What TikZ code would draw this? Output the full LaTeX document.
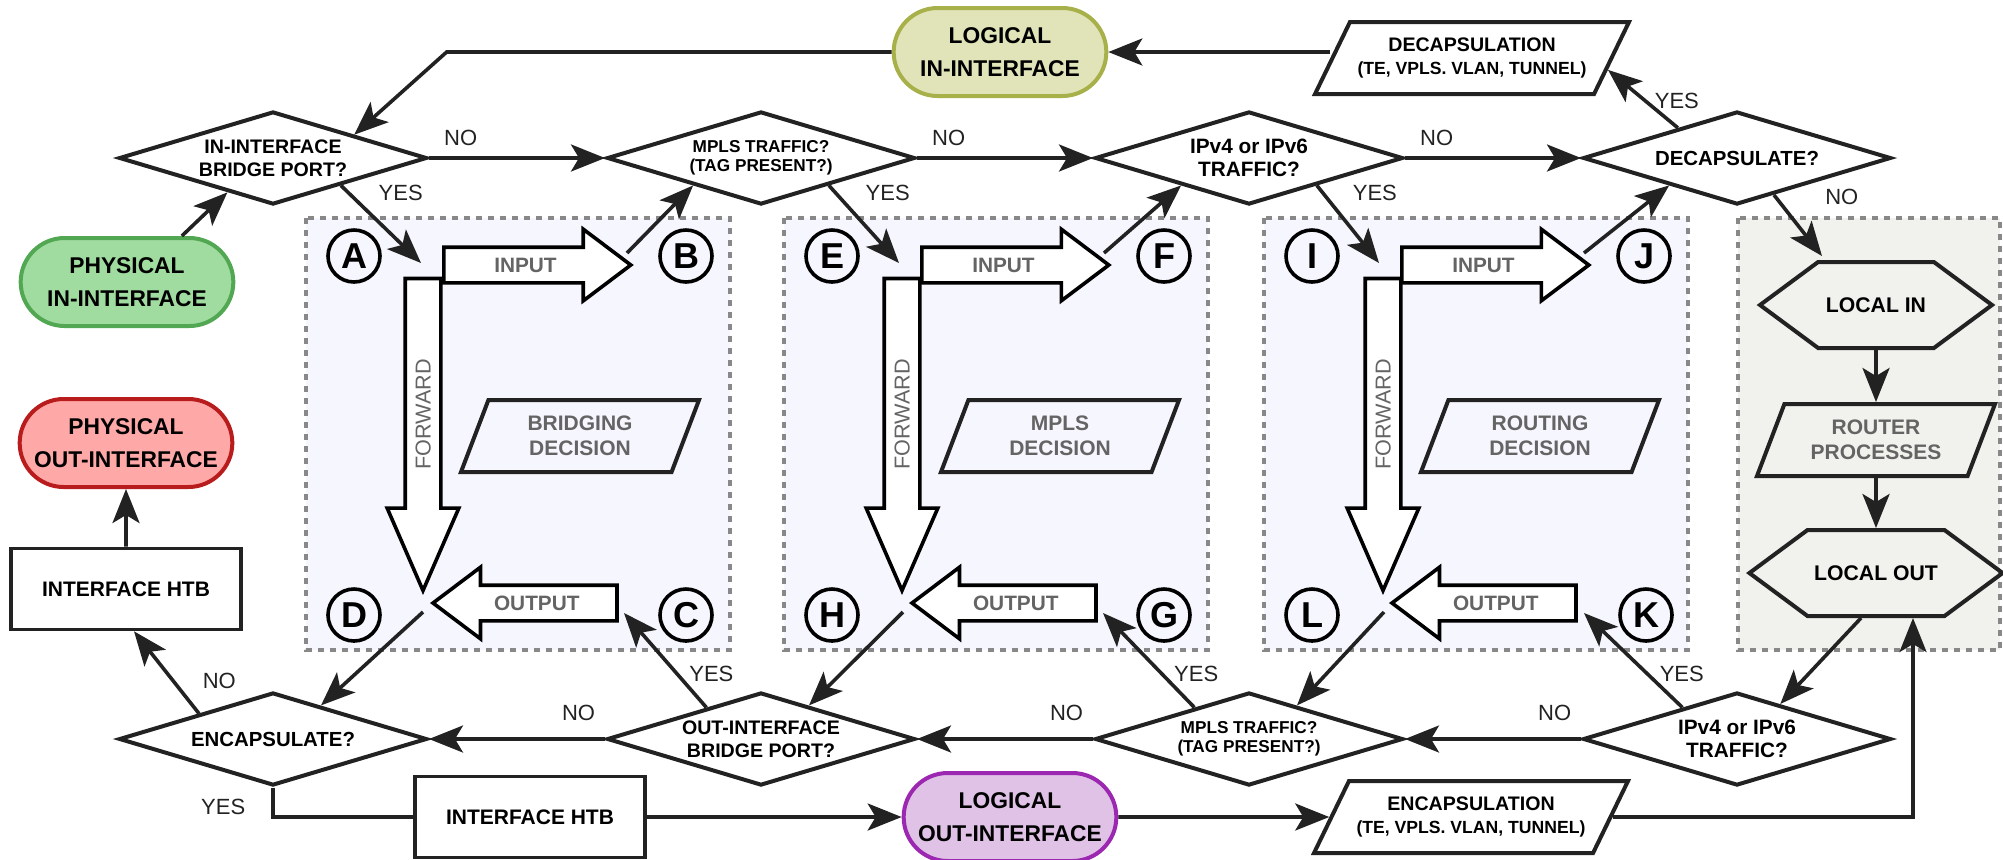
\documentclass[tikz,border=0pt]{standalone}
\usepackage{fontspec}
\setmainfont{Liberation Sans}
\usepackage{tikz}
\definecolor{linedark}{RGB}{34,34,34}
\definecolor{labelgray}{RGB}{100,100,100}
\definecolor{dashgray}{RGB}{136,136,136}
\definecolor{blockbg}{RGB}{246,246,254}
\definecolor{localbg}{RGB}{241,242,237}
\definecolor{physinfill}{RGB}{160,220,160}
\definecolor{physindraw}{RGB}{82,168,82}
\definecolor{physoutfill}{RGB}{255,168,168}
\definecolor{physoutdraw}{RGB}{184,28,28}
\definecolor{loginfill}{RGB}{224,228,184}
\definecolor{logindraw}{RGB}{168,176,74}
\definecolor{logoutfill}{RGB}{223,194,230}
\definecolor{logoutdraw}{RGB}{156,39,176}
\usetikzlibrary{shapes.geometric,shapes.misc,shapes.arrows,shapes.symbols,arrows.meta,positioning}

\begin{document}
\begin{tikzpicture}[
    x=0.5pt, y=-0.5pt,
    node distance=242pt and 88pt,
    pill/.style={rounded rectangle, line width=2pt, minimum width=113pt, minimum height=44pt, align=center, font=\bfseries\fontsize{11.4}{16.5}\selectfont},
    process/.style={rectangle, draw=linedark, line width=1.8pt, minimum width=115pt, minimum height=40.5pt, font=\bfseries\fontsize{10.5}{12}\selectfont},
    decision/.style={diamond, draw=linedark, line width=2pt, aspect=3.3, minimum width=154pt, minimum height=46.5pt, inner sep=0pt, align=center, font=\bfseries\fontsize{9.8}{11.7}\selectfont},
    mplsq/.style={font=\bfseries\fontsize{8.6}{9.6}\selectfont},
    ipq/.style={font=\bfseries\fontsize{10.4}{11.7}\selectfont},
    capq/.style={font=\bfseries\fontsize{10.2}{12}\selectfont},
    data/.style={trapezium, trapezium left angle=52, trapezium right angle=128, trapezium stretches body=true, draw=linedark, line width=2pt, fill=white, minimum width=157pt, minimum height=36pt, inner sep=1pt, align=center, font=\bfseries\fontsize{9.8}{11.7}\selectfont},
    choice/.style={trapezium, trapezium left angle=58, trapezium right angle=122, trapezium stretches body=true, draw=linedark, line width=2pt, minimum width=119pt, minimum height=36pt, inner sep=1pt, align=center, text=labelgray, font=\bfseries\fontsize{10.5}{12.5}\selectfont},
    hexa/.style={signal, signal to=east and west, signal pointer angle=73, draw=linedark, line width=2pt, minimum width=116pt, minimum height=43pt, font=\bfseries\fontsize{10.6}{12}\selectfont},
    letter/.style={circle, draw=black, line width=1.8pt, minimum size=26pt, inner sep=0pt, font=\bfseries\fontsize{18}{18}\selectfont},
    flow/.style={single arrow, draw=black, line width=1.8pt, fill=white, single arrow head extend=9pt, single arrow tip angle=74, text height=7.5pt, text depth=0pt, inner ysep=4.25pt, inner xsep=2pt, text=labelgray, font=\bfseries\fontsize{10.4}{12}\selectfont},
    fwd/.style={rotate=90, shape border rotate=180, minimum height=156pt, single arrow tip angle=47, font=\fontsize{10.8}{12}\selectfont},
    block/.style={draw=dashgray, line width=2pt, dash pattern=on 3pt off 3pt, fill=blockbg},
    arrow/.style={-{Stealth[length=17pt, width=13.5pt, inset=4pt]}, line width=1.8pt, draw=linedark},
    yesno/.style={inner sep=0pt, text=linedark, font=\fontsize{11}{11}\selectfont}
]
\useasboundingbox (0,0) rectangle (2003,859);

% decision blocks
\draw[block] (306,218) rectangle (730,650);
\draw[block] (784,218) rectangle (1208,650);
\draw[block] (1264,218) rectangle (1688,650);
\draw[block, fill=localbg] (1738,218) rectangle (2000,650);

\node[letter] (cA) at (354,256) {A};
\node[letter] (cB) at (686,256) {B};
\node[letter] (cC) at (686,615) {C};
\node[letter] (cD) at (354,615) {D};
\node[letter] (cE) at (832,256) {E};
\node[letter] (cF) at (1164,256) {F};
\node[letter] (cG) at (1164,615) {G};
\node[letter] (cH) at (832,615) {H};
\node[letter] (cI) at (1312,256) {I};
\node[letter] (cJ) at (1644,256) {J};
\node[letter] (cK) at (1646,615) {K};
\node[letter] (cL) at (1312,615) {L};

\node[flow, anchor=tail, minimum height=93.5pt] (inA) at (442,265) {INPUT};
\node[flow, anchor=tail, minimum height=93.5pt] (inE) at (920,265) {INPUT};
\node[flow, anchor=tail, minimum height=93.5pt] (inI) at (1400,265) {INPUT};
\node[flow, fwd, anchor=tip] (fwA) at (423,595) {FORWARD};
\node[flow, fwd, anchor=tip] (fwE) at (902,595) {FORWARD};
\node[flow, fwd, anchor=tip] (fwI) at (1383,595) {FORWARD};
\node[flow, shape border rotate=180, anchor=tip, minimum height=92pt] (outA) at (430,603) {OUTPUT};
\node[flow, shape border rotate=180, anchor=tip, minimum height=92pt] (outE) at (909,603) {OUTPUT};
\node[flow, shape border rotate=180, anchor=tip, minimum height=92pt] (outI) at (1389,603) {OUTPUT};

\node[choice] (bridging) at (580,436) {BRIDGING\\DECISION};
\node[choice] (mplsdec) at (1060,436) {MPLS\\DECISION};
\node[choice] (routing) at (1540,436) {ROUTING\\DECISION};

\coordinate (aIn) at (421,263);
\coordinate (aOut) at (627,253);
\coordinate (cIn) at (624,613);
\coordinate (dOut) at (423,612);
\coordinate (eIn) at (899,263);
\coordinate (fOut) at (1104,253);
\coordinate (gIn) at (1103,613);
\coordinate (hOut) at (903,612);
\coordinate (iIn) at (1379,263);
\coordinate (jOut) at (1584,253);
\coordinate (kIn) at (1584,613);
\coordinate (lOut) at (1384,612);

% local processing
\node[hexa] (localin) at (1876,305) {LOCAL IN};
\node[choice, below=26pt of localin] (routproc) {ROUTER\\PROCESSES};
\node[hexa, below=25pt of routproc] (localout) {LOCAL OUT};

% interfaces
\node[pill, fill=physinfill, draw=physindraw] (physin) at (127,282) {PHYSICAL\\IN-INTERFACE};
\node[pill, fill=physoutfill, draw=physoutdraw] (physout) at (126,443) {PHYSICAL\\OUT-INTERFACE};
\node[pill, fill=loginfill, draw=logindraw] (login) at (1000,52) {LOGICAL\\IN-INTERFACE};
\node[pill, fill=logoutfill, draw=logoutdraw] (logout) at (1010,817) {LOGICAL\\OUT-INTERFACE};
\node[process] (htbA) at (126,589) {INTERFACE HTB};
\node[process] (htbB) at (530,817) {INTERFACE HTB};
\node[data] (decapsulation) at (1472,58) {DECAPSULATION\\{\fontsize{8.8}{11.7}\selectfont (TE, VPLS. VLAN, TUNNEL)}};
\node[data] (encapsulation) at (1471,817) {ENCAPSULATION\\{\fontsize{8.8}{11.7}\selectfont (TE, VPLS. VLAN, TUNNEL)}};

% questions
\node[decision] (inbr) at (273,158) {IN-INTERFACE\\BRIDGE PORT?};
\node[decision, mplsq, right=of inbr] (mplsin) {MPLS TRAFFIC?\\(TAG PRESENT?)};
\node[decision, ipq, right=of mplsin] (ipin) {IPv4 or IPv6\\TRAFFIC?};
\node[decision, capq, right=of ipin] (decap) {DECAPSULATE?};
\node[decision, capq, below=of inbr] (encap) {ENCAPSULATE?};
\node[decision, below=of mplsin] (outbr) {OUT-INTERFACE\\BRIDGE PORT?};
\node[decision, mplsq, below=of ipin] (mplsout) {MPLS TRAFFIC?\\(TAG PRESENT?)};
\node[decision, ipq, below=of decap] (ipout) {IPv4 or IPv6\\TRAFFIC?};

% input path
\draw[arrow] (physin.40) -- (inbr.217);
\draw[arrow] (inbr.east) -- node[yesno, pos=0.18, above=5pt] {NO} (mplsin.west);
\draw[arrow] (mplsin.east) -- node[yesno, pos=0.18, above=5pt] {NO} (ipin.west);
\draw[arrow] (ipin.east) -- node[yesno, pos=0.18, above=5pt] {NO} (decap.west);
\draw[arrow] (inbr.-22) -- node[yesno, pos=0.1, right=14pt] {YES} (aIn);
\draw[arrow] (mplsin.-22) -- node[yesno, pos=0.1, right=14pt] {YES} (eIn);
\draw[arrow] (ipin.-22) -- node[yesno, pos=0.1, right=14pt] {YES} (iIn);
\draw[arrow] (aOut) -- (mplsin.202);
\draw[arrow] (fOut) -- (ipin.202);
\draw[arrow] (jOut) -- (decap.202);
\draw[arrow] (decap.153) -- node[yesno, pos=0.47, right=4pt] {YES} (decapsulation.-5);
\draw[arrow] (decap.-45) -- node[yesno, pos=0.03, right=24pt] {NO} ([xshift=-27pt, yshift=2pt]localin.north);
\draw[arrow] (decapsulation.west |- login.east) -- (login.east);
\draw[arrow] (login.west) -- ++(-445,0) -- (inbr.16);

% local path
\draw[arrow] (localin) -- (routproc);
\draw[arrow] (routproc) -- (localout);
\draw[arrow] ([xshift=-7.5pt]localout.south) -- (ipout.39);

% output path
\draw[arrow] (ipout.west) -- node[yesno, pos=0.15, above=8.5pt] {NO} (mplsout.east);
\draw[arrow] (mplsout.west) -- node[yesno, pos=0.15, above=8.5pt] {NO} (outbr.east);
\draw[arrow] (outbr.west) -- node[yesno, pos=0.15, above=8.5pt] {NO} (encap.east);
\draw[arrow] (ipout.150) -- node[yesno, pos=0.35, right=5pt] {YES} (kIn);
\draw[arrow] (mplsout.150) -- node[yesno, pos=0.35, right=5pt] {YES} (gIn);
\draw[arrow] (outbr.150) -- node[yesno, pos=0.35, right=5pt] {YES} (cIn);
\draw[arrow] (lOut) -- (mplsout.35);
\draw[arrow] (hOut) -- (outbr.35);
\draw[arrow] (dOut) -- (encap.35);
\draw[arrow] (encap.161) -- node[yesno, pos=0.4, right=14pt] {NO} ([xshift=4pt]htbA.south);
\draw[arrow] (htbA) -- (physout);
\draw[line width=1.8pt, draw=linedark] (encap.south) |- node[yesno, pos=0.33, left=13pt] {YES} (htbB.west);
\draw[arrow] (htbB) -- (logout);
\draw[arrow] (logout) -- (encapsulation);
\draw[arrow] (encapsulation.east) -| ([xshift=18.5pt]localout.south);

\end{tikzpicture}
\end{document}
